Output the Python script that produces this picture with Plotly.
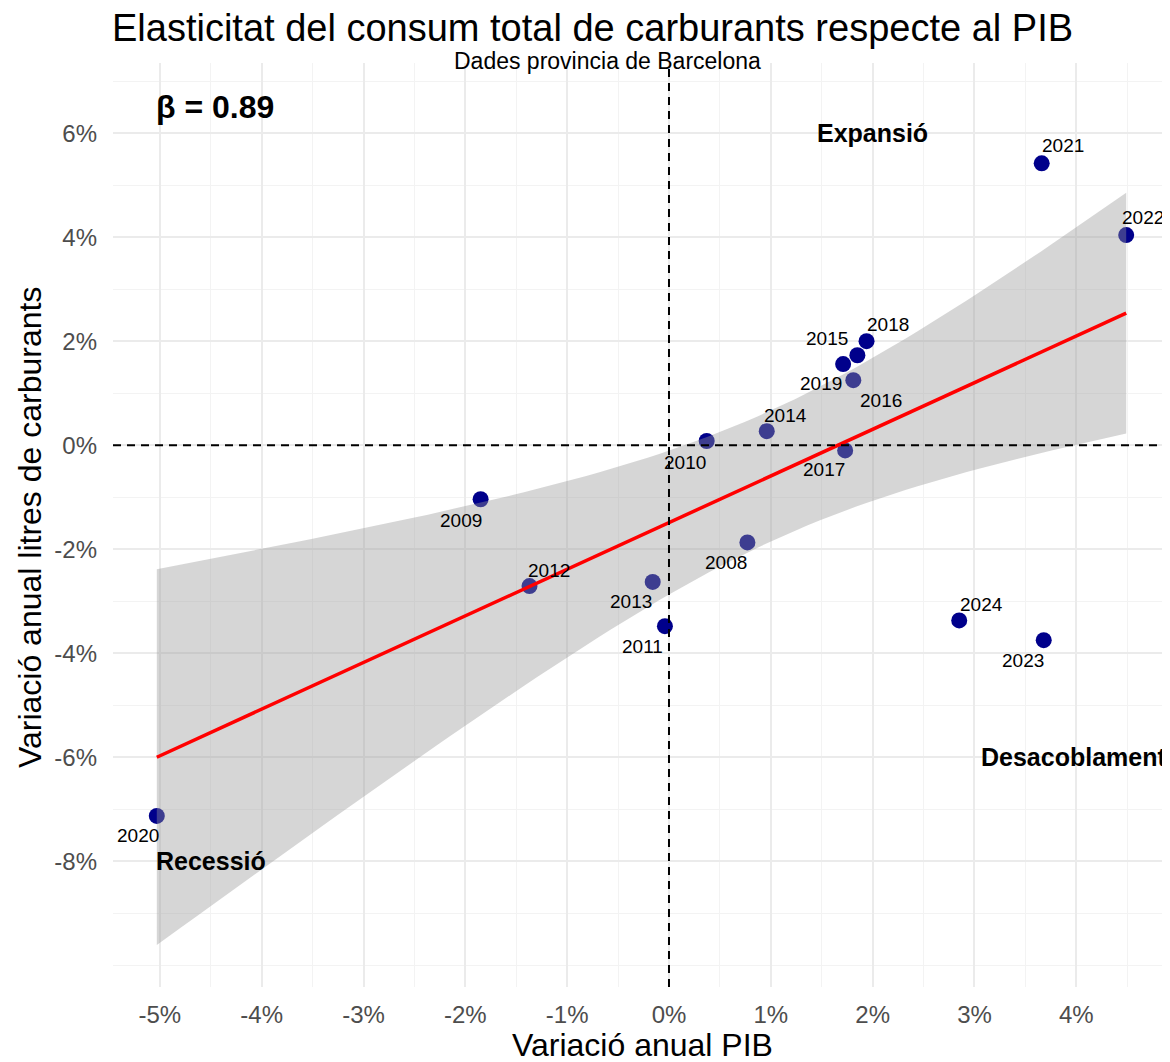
import numpy as np
import plotly.graph_objects as go

# Variació anual (%) — PIB vs litres de carburants, província de Barcelona
anys = ['2008', '2009', '2010', '2011', '2012', '2013', '2014', '2015', '2016',
        '2017', '2018', '2019', '2020', '2021', '2022', '2023', '2024']
var_pib = [0.77, -1.85, 0.37, -0.04, -1.37, -0.16, 0.96, 1.71, 1.85,
           1.73, 1.94, 1.81, -5.03, 3.66, 4.49, 3.68, 2.85]
var_carb = [-1.87, -1.04, 0.08, -3.48, -2.71, -2.63, 0.27, 1.56, 1.73,
            -0.10, 2.00, 1.25, -7.13, 5.42, 4.04, -3.75, -3.37]

x_ticks = [-5, -4, -3, -2, -1, 0, 1, 2, 3, 4]
y_ticks = [-8, -6, -4, -2, 0, 2, 4, 6]

# desplaçament de les etiquetes (px, y cap amunt): a la manera de ggrepel
label_shift = {
    '2008': (-21, -20), '2009': (-20, -21), '2010': (-22, -21), '2011': (-22, -20),
    '2012': (20, 16), '2013': (-22, -20), '2014': (19, 16), '2015': (-16, 26),
    '2016': (24, -45), '2017': (-21, -19), '2018': (21, 17), '2019': (-32, -3),
    '2020': (-19, -20), '2021': (21, 18), '2022': (17, 18), '2023': (-21, -20),
    '2024': (22, 16),
}

_NAVY = '#00008B'
_GRID = '#EBEBEB'
_MINOR = '#F3F3F3'
_FONT = 'Liberation Sans, Arial, sans-serif'

# el panell ocupa (pantalla) x 113..1170, y 63..987
def _px(sx):
    return (sx - 113) / 1057


def _py(sy):
    return (987 - sy) / 924


# regressió lineal + interval de confiança 95% (com geom_smooth(method='lm'))
x = np.array(var_pib)
y = np.array(var_carb)
n = len(x)
slope, intercept = np.polyfit(x, y, 1)
resid = y - (intercept + slope * x)
s = np.sqrt(np.sum(resid ** 2) / (n - 2))
t_crit = 2.131  # t(0.975, df=15)
xg = np.linspace(x.min(), x.max(), 80)
yg = intercept + slope * xg
se = s * np.sqrt(1 / n + (xg - x.mean()) ** 2 / np.sum((x - x.mean()) ** 2))
lo, hi = yg - t_crit * se, yg + t_crit * se

fig = go.Figure()

fig.add_trace(go.Scatter(
    x=var_pib, y=var_carb, mode='markers',
    marker=dict(color=_NAVY, size=16, line=dict(width=0)),
    showlegend=False, hoverinfo='skip',
))

# banda de confiança per sobre dels punts
fig.add_trace(go.Scatter(
    x=np.concatenate([xg, xg[::-1]]), y=np.concatenate([hi, lo[::-1]]),
    fill='toself', fillcolor='rgba(153,153,153,0.4)', line=dict(width=0),
    mode='lines', showlegend=False, hoverinfo='skip',
))
fig.add_trace(go.Scatter(
    x=xg, y=yg, mode='lines', line=dict(color='#FF0000', width=3.5),
    showlegend=False, hoverinfo='skip',
))

for a, px_, py_ in zip(anys, var_pib, var_carb):
    dx, dy = label_shift[a]
    fig.add_annotation(
        x=px_, y=py_, text=a, showarrow=False, xshift=dx, yshift=dy,
        font=dict(size=19, color='black', family=_FONT),
    )

# línies de referència
fig.add_shape(type='line', xref='x', yref='paper', x0=0, x1=0, y0=0, y1=1,
              line=dict(color='black', width=2, dash='8px,6px'))
fig.add_shape(type='line', xref='paper', yref='y', x0=0, x1=1, y0=0, y1=0,
              line=dict(color='black', width=2, dash='8px,6px'))

# textos dels quadrants
bold = dict(size=25, color='black', family=_FONT, weight='bold')
fig.add_annotation(x=-5.03, y=6.5, text='β = 0.89', showarrow=False, xanchor='left',
                   xshift=-3, font=dict(size=32, color='black', family=_FONT, weight='bold'))
fig.add_annotation(x=2, y=6, text='Expansió', showarrow=False, font=bold)
fig.add_annotation(xref='paper', x=1, y=-6, text='Desacoblament', showarrow=False,
                   xanchor='right', xshift=-2, font=bold)
fig.add_annotation(x=-5.03, y=-8, text='Recessió', showarrow=False, xanchor='left',
                   xshift=-3, font=bold)

# títols
fig.add_annotation(xref='paper', yref='paper', x=0, y=_py(28), yanchor='middle',
                   xanchor='left', xshift=-3, showarrow=False,
                   text='Elasticitat del consum total de carburants respecte al PIB',
                   font=dict(size=38, color='black', family=_FONT))
fig.add_annotation(xref='paper', yref='paper', x=_px(607), y=_py(61),
                   yanchor='middle', showarrow=False, text='Dades provincia de Barcelona',
                   font=dict(size=23, color='black', family=_FONT))
fig.add_annotation(xref='paper', yref='paper', x=_px(642), y=_py(1045),
                   yanchor='middle', showarrow=False, text='Variació anual PIB',
                   font=dict(size=32, color='black', family=_FONT))
fig.add_annotation(xref='paper', yref='paper', x=_px(30), y=_py(528),
                   yanchor='middle', xanchor='center', textangle=-90, showarrow=False,
                   text='Variació anual litres de carburants',
                   font=dict(size=32, color='black', family=_FONT))

fig.update_layout(
    # la pàgina afegeix 8 px de marge al cos
    width=1162, height=1054,
    paper_bgcolor='white', plot_bgcolor='white',
    margin=dict(l=105, r=0, t=55, b=75),
    font=dict(family=_FONT),
    xaxis=dict(
        range=[-5.46, 4.92], tickvals=x_ticks, ticktext=[f'{v}%' for v in x_ticks],
        showgrid=True, gridcolor=_GRID, gridwidth=1.6, zeroline=False, showline=False,
        ticks='', ticklabelstandoff=11,
        tickfont=dict(size=24, color='#4D4D4D', family=_FONT),
        minor=dict(dtick=0.5, tick0=0, showgrid=True, gridcolor=_MINOR, gridwidth=1),
    ),
    yaxis=dict(
        range=[-10.42, 7.35], tickvals=y_ticks, ticktext=[f'{v}%' for v in y_ticks],
        showgrid=True, gridcolor=_GRID, gridwidth=1.6, zeroline=False, showline=False,
        ticks='', ticklabelstandoff=15,
        tickfont=dict(size=24, color='#4D4D4D', family=_FONT),
        minor=dict(dtick=1, tick0=0, showgrid=True, gridcolor=_MINOR, gridwidth=1),
    ),
)

fig.write_html('out.html')
